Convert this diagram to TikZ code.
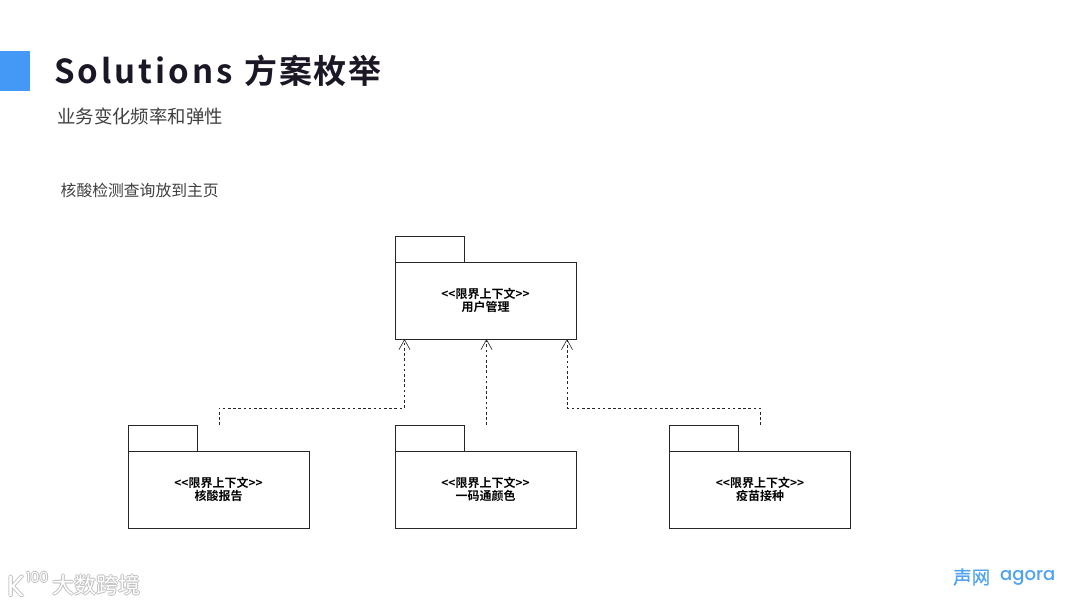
\documentclass[tikz,border=0pt]{standalone}
\usepackage{fontspec}
\setmainfont{Noto Sans CJK SC}
\newfontfamily\titlelat[LetterSpace=9]{Noto Sans CJK SC Bold}
\newfontfamily\titlecjk[LetterSpace=4.5]{Noto Sans CJK SC Bold}
\newfontfamily\boldcjk{Noto Sans CJK SC Bold}
\newfontfamily\logocjk[FakeBold=0.7]{Noto Sans CJK SC}
\newfontfamily\logolat{Poppins Medium}
\newfontfamily\wmlat{Poppins}
\usetikzlibrary{arrows.meta,calc}
\definecolor{barblue}{HTML}{4499F7}
\definecolor{titleink}{HTML}{1C1724}
\definecolor{subink}{HTML}{404040}
\definecolor{logoblue}{HTML}{4FA3F0}
\tikzset{
  pkgbody/.style={draw=black!85,line width=0.8pt,fill=white,minimum width=181pt,minimum height=77pt,inner sep=0pt,outer sep=0pt,align=center,font=\fontsize{12}{13.5}\selectfont\boldcjk},
  pkgtab/.style={draw=black!85,line width=0.8pt,fill=white,minimum width=69pt,minimum height=26pt,inner sep=0pt,outer sep=0pt,anchor=south west},
  dep/.style={draw=black!85,line width=0.7pt,dash pattern=on 2.6pt off 2.6pt,-{Straight Barb[length=10pt,width=11pt,line width=0.6pt]}},
  txt/.style={inner sep=0pt,anchor=west},
}
\begin{document}
\begin{tikzpicture}[x=1pt,y=-1pt]
\useasboundingbox (0,0) rectangle (1080,605);
\fill[white] (0,0) rectangle (1080,605);
\fill[barblue] (0,51) rectangle (29.5,90.5);
\node[txt,text=titleink,font=\fontsize{33}{36}\selectfont] (title) at (54,71) {{\titlelat Solutions}\hspace{12pt}{\titlecjk 方案枚举}};
\node[txt,text=subink,font=\fontsize{18.4}{20}\selectfont] (sub) at (57,116) {业务变化频率和弹性};
\node[txt,text=subink,font=\fontsize{15.8}{18}\selectfont] (note) at (60.5,190.5) {核酸检测查询放到主页};
% packages
\node[pkgbody] (user) at (485.5,300.5) {<<限界上下文>>\\用户管理};
\node[pkgtab] (usertab) at (user.north west) {};
\node[pkgbody] (report) at (218.5,489.5) {<<限界上下文>>\\核酸报告};
\node[pkgtab] (reporttab) at (report.north west) {};
\node[pkgbody] (code) at (485.5,489.5) {<<限界上下文>>\\一码通颜色};
\node[pkgtab] (codetab) at (code.north west) {};
\node[pkgbody] (vax) at (760,489.5) {<<限界上下文>>\\疫苗接种};
\node[pkgtab] (vaxtab) at (vax.north west) {};
% connector ends
\coordinate (s1) at (219,425);
\coordinate (s2) at (486.5,425);
\coordinate (s3) at (760,425);
\coordinate (e1) at ($(user.south)+(-81,0)$);
\coordinate (e2) at ($(user.south)+(1,0)$);
\coordinate (e3) at ($(user.south)+(81.5,0)$);
\coordinate (k1) at (404.5,408);
\coordinate (k3) at (567,408);
\draw[dep] (s1) |- (k1) -- (e1);
\draw[dep] (s2) -- (e2);
\draw[dep] (s3) |- (k3) -- (e3);
% watermark
\foreach \dx/\dy in {-0.9/0,0.9/0,0/-0.9,0/0.9}{
  \node[txt,text=black!25,font=\fontsize{22}{24}\selectfont] at (52+\dx,585.5+\dy) {大数跨境};
  \node[txt,text=black!25,font=\fontsize{29}{30}\selectfont\wmlat] at (7+\dx,586+\dy) {K};
  \node[txt,text=black!25,font=\fontsize{14}{15}\selectfont\wmlat] at (26+\dx,577+\dy) {100};
}
\node[txt,text=white,font=\fontsize{22}{24}\selectfont] (wm) at (52,585.5) {大数跨境};
\node[txt,text=white,font=\fontsize{29}{30}\selectfont\wmlat] (wmk) at (7,586) {K};
\node[txt,text=white,font=\fontsize{14}{15}\selectfont\wmlat] (wmn) at (26,577) {100};
% logo
\node[txt,text=logoblue,font=\fontsize{18.5}{20}\selectfont\logocjk] (lg1) at (953,577) {声网};
\node[txt,text=logoblue,font=\fontsize{18}{20}\selectfont\logolat] (lg2) at (1000,578) {agora};
\end{tikzpicture}
\end{document}
